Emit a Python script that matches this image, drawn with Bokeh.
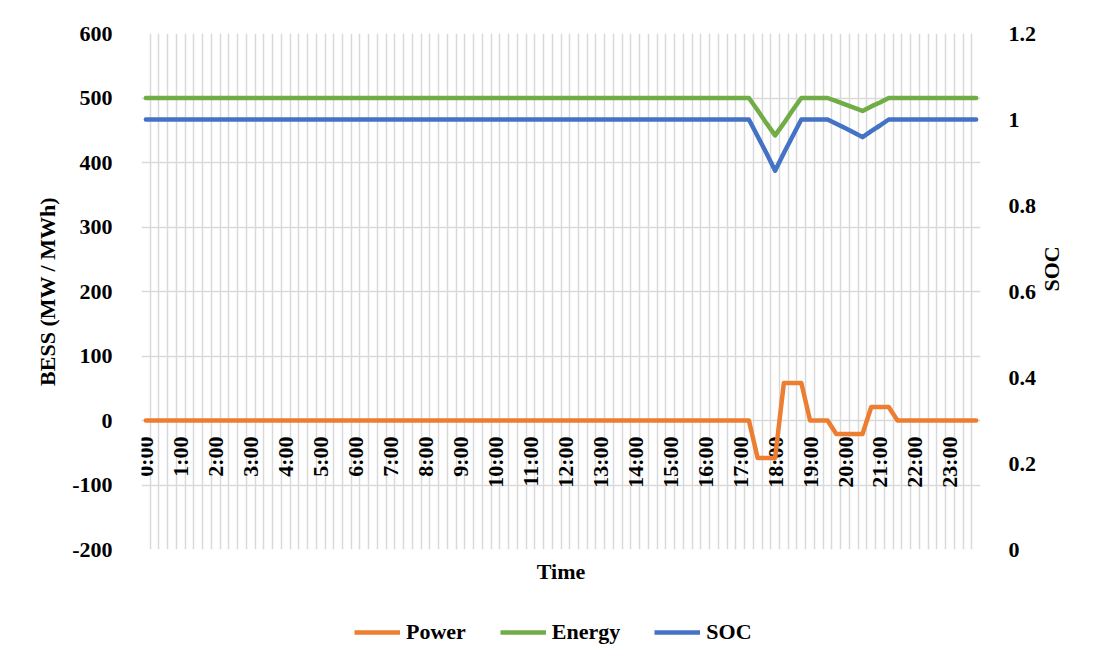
import math
from bokeh.plotting import figure
from bokeh.layouts import column
from bokeh.models import Range1d, LinearAxis, FixedTicker, Legend, LegendItem
from bokeh.core.properties import value
from bokeh.embed import file_html
from bokeh.resources import INLINE

# ---- data (15-minute steps, 96 intervals) ----
hour_labels = ["0:00", "1:00", "2:00", "3:00", "4:00", "5:00", "6:00", "7:00",
               "8:00", "9:00", "10:00", "11:00", "12:00", "13:00", "14:00", "15:00",
               "16:00", "17:00", "18:00", "19:00", "20:00", "21:00", "22:00", "23:00"]
steps_per_hour = 4

power = [0] * 70 + [-58, -58, -58, 58, 58, 58, 0, 0, 0, -21, -21, -21, -21, 21, 21, 21] + [0] * 10
energy = [500] * 70 + [481, 461, 442, 461, 481, 500, 500, 500, 500, 495, 490, 485, 480, 487, 493, 500] + [500] * 10
soc = [1.0] * 70 + [0.961, 0.922, 0.881, 0.922, 0.961, 1.0, 1.0, 1.0, 1.0, 0.99, 0.98, 0.97, 0.959, 0.973, 0.986, 1.0] + [1.0] * 10

left_ticks = [-200, -100, 0, 100, 200, 300, 400, 500, 600]
left_tick_labels = ["-200", "-100", "0", "100", "200", "300", "400", "500", "600"]
right_ticks = [0, 0.2, 0.4, 0.6, 0.8, 1.0, 1.2]
right_tick_labels = ["0", "0.2", "0.4", "0.6", "0.8", "1", "1.2"]

n = len(power)
idx = list(range(n))

FONT = "Liberation Serif"
FS = "22px"
ORANGE = "#ED7D31"
GREEN = "#70AD47"
BLUE = "#4472C4"
GRID = "#D9D9D9"
LW = 4.5

FIG_W = 1090
MAIN_H, LEG_H = 600, 58

p = figure(width=FIG_W, height=MAIN_H, output_backend="svg", toolbar_location=None,
           x_range=Range1d(-0.5, n - 0.5),
           y_range=Range1d(left_ticks[0], left_ticks[-1]),
           min_border_left=141, min_border_right=110, min_border_top=33,
           min_border_bottom=51)
p.outline_line_color = None
p.background_fill_color = "white"
p.border_fill_color = "white"
p.extra_y_ranges = {"soc": Range1d(right_ticks[0], right_ticks[-1])}

# grids
p.xgrid.ticker = FixedTicker(ticks=[i - 0.5 for i in range(n + 1)])
p.xgrid.grid_line_color = GRID
p.xgrid.grid_line_width = 1.5
p.ygrid.ticker = FixedTicker(ticks=left_ticks)
p.ygrid.grid_line_color = GRID
p.ygrid.grid_line_width = 1.5


def style_axis(ax):
    ax.axis_line_color = None
    ax.major_tick_line_color = None
    ax.minor_tick_line_color = None
    ax.major_label_text_font = FONT
    ax.major_label_text_font_style = "bold"
    ax.major_label_text_font_size = FS
    ax.major_label_text_color = "black"
    ax.axis_label_text_font = FONT
    ax.axis_label_text_font_style = "bold"
    ax.axis_label_text_font_size = FS
    ax.axis_label_text_color = "black"


# left axis
ly = p.yaxis[0]
ly.ticker = FixedTicker(ticks=left_ticks)
ly.major_label_overrides = {t: s for t, s in zip(left_ticks, left_tick_labels)}
ly.axis_label = "BESS (MW / MWh)"
ly.major_label_standoff = 23
ly.axis_label_standoff = 9
style_axis(ly)

# right axis
ry = LinearAxis(y_range_name="soc", ticker=FixedTicker(ticks=right_ticks),
                axis_label="SOC")
ry.major_label_overrides = {t: s for t, s in zip(right_ticks, right_tick_labels)}
ry.major_label_standoff = 22
ry.axis_label_standoff = 12
ry.axis_label_orientation = math.pi / 2
style_axis(ry)
p.add_layout(ry, "right")

# bottom axis: only its title
bx = p.xaxis[0]
bx.ticker = FixedTicker(ticks=[])
bx.axis_label = "Time"
bx.major_label_standoff = 0
bx.axis_label_standoff = 9
style_axis(bx)

# hour labels just under the zero line
label_x = [i * steps_per_hour for i in range(len(hour_labels))]
p.text(x=label_x, y=[0] * len(label_x), text=hour_labels, angle=math.pi / 2,
       text_align="right", text_baseline="middle", y_offset=16,
       text_font=value(FONT), text_font_style="bold", text_font_size=FS,
       text_color="black")

# series
p.line(idx, power, line_color=ORANGE, line_width=LW, line_cap="round", line_join="round")
p.line(idx, energy, line_color=GREEN, line_width=LW, line_cap="round", line_join="round")
p.line(idx, soc, line_color=BLUE, line_width=LW, y_range_name="soc",
       line_cap="round", line_join="round")

# ---- legend strip below the chart ----
lf = figure(width=FIG_W, height=LEG_H, output_backend="svg", toolbar_location=None,
            x_range=Range1d(-0.5, n - 0.5),
            y_range=Range1d(left_ticks[0], left_ticks[-1]),
            min_border_left=0, min_border_right=0, min_border_top=0,
            min_border_bottom=0)
lf.outline_line_color = None
lf.axis.visible = False
lf.grid.visible = False
lf.border_fill_color = "white"
lp = lf.line(idx, power, line_color=ORANGE, line_width=LW, visible=False)
le = lf.line(idx, energy, line_color=GREEN, line_width=LW, visible=False)
ls = lf.line(idx, soc, line_color=BLUE, line_width=LW, visible=False)

legend = Legend(items=[LegendItem(label="Power", renderers=[lp]),
                       LegendItem(label="Energy", renderers=[le]),
                       LegendItem(label="SOC", renderers=[ls])],
                orientation="horizontal", location=(213, 13))
legend.label_text_font = FONT
legend.label_text_font_style = "bold"
legend.label_text_font_size = FS
legend.label_text_color = "black"
legend.glyph_width = 46
legend.label_standoff = 6
legend.spacing = 34
legend.padding = 4
legend.margin = 0
legend.border_line_color = None
legend.background_fill_alpha = 0
legend.inactive_fill_alpha = 0
lf.add_layout(legend)

open("out.html", "w").write(file_html(column(p, lf, spacing=0), INLINE))
